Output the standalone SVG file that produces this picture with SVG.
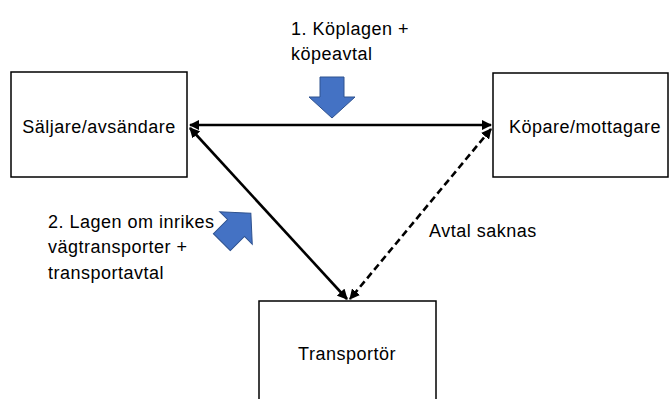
<svg xmlns="http://www.w3.org/2000/svg" width="669" height="399" viewBox="0 0 669 399">
<style>
.box{fill:#fff;stroke:#000;stroke-width:1.5}
.t{font-family:"Liberation Sans",Arial,sans-serif;font-size:18px;letter-spacing:0.5px;fill:#000}
.c{stroke:#000;stroke-width:2.6;fill:none}
.blk{fill:#4472C4;stroke:#2F528F;stroke-width:1}
</style>
<defs>
<marker id="ah" viewBox="0 0 10 10" refX="9" refY="5" markerWidth="4" markerHeight="4" orient="auto-start-reverse" markerUnits="strokeWidth">
<path d="M0,0 L10,5 L0,10 z" fill="#000"/>
</marker>
</defs>
<rect width="669" height="399" fill="#fff"/>
<g id="seller">
<rect class="box" x="11" y="72" width="176" height="105"/>
<text class="t" x="99" y="133" text-anchor="middle">Säljare/avsändare</text>
</g>
<g id="buyer">
<rect class="box" x="493" y="73" width="175" height="104"/>
<text class="t" x="585" y="133" text-anchor="middle">Köpare/mottagare</text>
</g>
<g id="carrier">
<rect class="box" x="259" y="301" width="177" height="110"/>
<text class="t" x="347" y="360" text-anchor="middle">Transportör</text>
</g>
<g id="connectors">
<line class="c" x1="190" y1="125" x2="491" y2="125" marker-start="url(#ah)" marker-end="url(#ah)"/>
<line class="c" x1="190" y1="128" x2="347" y2="299" marker-start="url(#ah)" marker-end="url(#ah)"/>
<line class="c" x1="491" y1="129" x2="350" y2="299" stroke-dasharray="7,4" marker-start="url(#ah)" marker-end="url(#ah)"/>
</g>
<g id="label1">
<text class="t" x="291" y="35">1. Köplagen +</text>
<text class="t" x="291" y="60">köpeavtal</text>
<path class="blk" d="M320,77 L344,77 L344,97 L355,97 L332,118 L309,97 L320,97 Z"/>
</g>
<g id="label2">
<text class="t" x="48" y="228">2. Lagen om inrikes</text>
<text class="t" x="48" y="253">vägtransporter +</text>
<text class="t" x="48" y="279">transportavtal</text>
<path class="blk" transform="translate(236,228) rotate(-135)" d="M-12,-20 L12,-20 L12,0 L23,0 L0,21 L-23,0 L-12,0 Z"/>
</g>
<g id="label3">
<text class="t" x="429" y="237">Avtal saknas</text>
</g>
</svg>
